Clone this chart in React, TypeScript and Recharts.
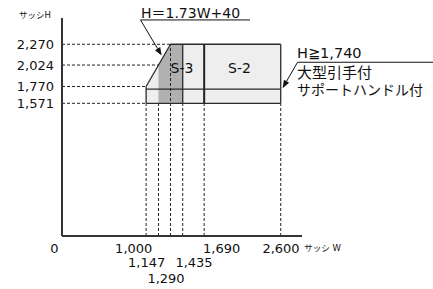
import React from 'react';
import { ComposedChart, Area, XAxis, YAxis, ReferenceLine, ReferenceDot } from 'recharts';

// ---- data ----
const widths = [1000, 1147, 1290, 1435, 2600];
const frameTop = [1770, 2024, 2270, 2270, 2270];
const s3Top: (number | null)[] = [null, 2024, 2270, 2270, null];
const frameBottom = 1571;
const bandH = 1740;
const s3Right = 1435;
const s2Left = 1690;
const topH = 2270;

// outline polygon of the whole frame
const outlineW = [1000, 1000, 1290, 2600, 2600, 1000];
const outlineH = [1571, 1770, 2270, 2270, 1571, 1571];

const xTicks = [0, 1000, 1147, 1290, 1435, 1690, 2600];
const yTicks = [1571, 1770, 2024, 2270];
// where each horizontal guide meets the frame
const yGuideEnds = [1000, 1000, 1147, 1290];
// vertical guides and how high they reach
const xGuides = [1000, 1147, 1290, 1435, 1690, 2600];
const xGuideTops = [1571, 1571, 2270, 1571, 1571, 1571];

const data = widths.map((w, i) => ({ w, frame: frameTop[i], s3: s3Top[i] }));

const FONT = "'DejaVu Sans', 'Noto Sans CJK JP', sans-serif";
const INK = '#2b2b2b';

// annotation anchors (data coordinates)
const notes = [
  { text: 'サッシH', x: -321, y: 2617, size: 8.5, anchor: 'middle' },
  { text: 'サッシ W', x: 2880, y: -139, size: 8.5, anchor: 'start' },
  { text: 'H＝1.73W+40', x: 939, y: 2644, size: 14, anchor: 'start' },
  { text: 'S-3', x: 1427, y: 1989, size: 14, anchor: 'middle' },
  { text: 'S-2', x: 2110, y: 1989, size: 14, anchor: 'middle' },
  { text: 'H≧1,740', x: 2794, y: 2163, size: 14.5, anchor: 'start' },
  { text: '大型引手付', x: 2794, y: 1932, size: 15, anchor: 'start' },
  { text: 'サポートハンドル付', x: 2794, y: 1723, size: 14, anchor: 'start' },
];
// underlines and leaders
const underlines = [
  { x1: 933, x2: 2235, y: 2558 },
  { x1: 2800, x2: 4500, y: 2057 },
];
const leaders = [
  { x1: 933, y1: 2558, x2: 1185, y2: 2137 },
  { x1: 2800, y1: 2057, x2: 2622, y2: 1749 },
];

// per-tick label offsets (px) so that labels are staggered
const tickOffsets: Record<number, [number, number]> = {
  0: [-7.5, 4],
  1000: [-12.4, 4],
  1147: [-11.8, 18.5],
  1290: [-4.5, 34.5],
  1435: [11.3, 18.5],
  1690: [17.5, 4],
  2600: [0.3, 4],
};

const fmt = (v: number) => v.toLocaleString('en-US');

const XTick = (props: any) => {
  const { x, y, payload } = props;
  const off = tickOffsets[payload.value] || [0, 4];
  return (
    <text x={x + off[0]} y={y + off[1]} textAnchor="middle" dominantBaseline="central"
      fontFamily={FONT} fontSize={13} fill="#111">
      {fmt(payload.value)}
    </text>
  );
};

const YTick = (props: any) => {
  const { x, y, payload } = props;
  return (
    <text x={x} y={y} textAnchor="end" dominantBaseline="central"
      fontFamily={FONT} fontSize={13} fill="#111">
      {fmt(payload.value)}
    </text>
  );
};

const ArrowShape = (p: any) => {
  const { x1, y1, x2, y2 } = p;
  const dx = x2 - x1;
  const dy = y2 - y1;
  const len = Math.sqrt(dx * dx + dy * dy) || 1;
  const ux = dx / len;
  const uy = dy / len;
  const L = 8;
  const W = 3;
  const bx = x2 - ux * L;
  const by = y2 - uy * L;
  const pts = `${x2},${y2} ${bx - uy * W},${by + ux * W} ${bx + uy * W},${by - ux * W}`;
  return (
    <g>
      <line x1={x1} y1={y1} x2={bx} y2={by} stroke="#111" strokeWidth={1} />
      <polygon points={pts} fill="#111" />
    </g>
  );
};

export default function App() {
  const outlineSegs = outlineW.slice(0, -1).map((w, i) => [
    { x: w, y: outlineH[i] },
    { x: outlineW[i + 1], y: outlineH[i + 1] },
  ]);
  return (
    <div style={{ position: 'absolute', left: 0, top: 0 }}>
      <ComposedChart width={433} height={289} data={data}
        margin={{ top: 18, right: 131, bottom: 23, left: 0 }}>
        <XAxis type="number" dataKey="w" domain={[0, 2853]} ticks={xTicks} interval={0}
          tickLine={false} axisLine={{ stroke: '#333', strokeWidth: 2 }} height={30} tick={<XTick />} />
        <YAxis type="number" domain={[0, 2581]} ticks={yTicks} interval={0} width={62}
          tickLine={false} axisLine={{ stroke: '#333', strokeWidth: 2 }} tick={<YTick />} />

        <Area type="linear" dataKey="frame" baseValue={frameBottom} fill="#eeeeee" fillOpacity={1}
          stroke="none" isAnimationActive={false} dot={false} activeDot={false} />
        <Area type="linear" dataKey="s3" baseValue={frameBottom} fill="#b0b0b0" fillOpacity={1}
          stroke="none" isAnimationActive={false} dot={false} activeDot={false} connectNulls={false} />

        {yTicks.map((h, i) => (
          <ReferenceLine key={'gh' + h} segment={[{ x: 0, y: h }, { x: yGuideEnds[i], y: h }]}
            stroke="#222" strokeWidth={1} strokeDasharray="3 2" ifOverflow="visible" />
        ))}
        {xGuides.map((w, i) => (
          <ReferenceLine key={'gv' + w} segment={[{ x: w, y: 0 }, { x: w, y: xGuideTops[i] }]}
            stroke="#222" strokeWidth={1} strokeDasharray="3 2" ifOverflow="visible" />
        ))}

        {outlineSegs.map((s, i) => (
          <ReferenceLine key={'o' + i} segment={s} stroke={INK} strokeWidth={1.3} ifOverflow="visible" />
        ))}
        <ReferenceLine segment={[{ x: outlineW[0], y: bandH }, { x: 2600, y: bandH }]}
          stroke={INK} strokeWidth={1.3} ifOverflow="visible" />
        <ReferenceLine segment={[{ x: s3Right, y: frameBottom }, { x: s3Right, y: topH }]}
          stroke={INK} strokeWidth={1.3} ifOverflow="visible" />
        <ReferenceLine segment={[{ x: s2Left, y: frameBottom }, { x: s2Left, y: topH }]}
          stroke="#222" strokeWidth={2} ifOverflow="visible" />

        {underlines.map((u, i) => (
          <ReferenceLine key={'u' + i} segment={[{ x: u.x1, y: u.y }, { x: u.x2, y: u.y }]}
            stroke="#111" strokeWidth={1} ifOverflow="visible" />
        ))}
        {leaders.map((l, i) => (
          <ReferenceLine key={'l' + i} segment={[{ x: l.x1, y: l.y1 }, { x: l.x2, y: l.y2 }]}
            ifOverflow="visible" shape={ArrowShape} />
        ))}

        {notes.map((n, i) => (
          <ReferenceDot key={'n' + i} x={n.x} y={n.y} r={0} ifOverflow="visible"
            shape={(p: any) => (
              <text x={p.cx} y={p.cy} textAnchor={n.anchor as any} dominantBaseline="central"
                fontFamily={FONT} fontSize={n.size} fill="#111">
                {n.text}
              </text>
            )} />
        ))}
      </ComposedChart>
    </div>
  );
}
